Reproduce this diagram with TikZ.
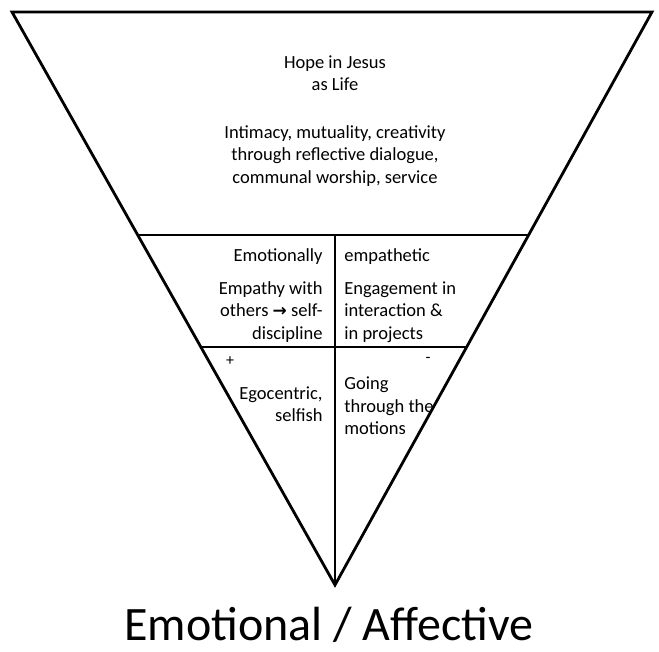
\documentclass[tikz,border=0pt]{standalone}
\usepackage{fontspec}
\setmainfont{Carlito}
\newfontfamily\arrowglyph{DejaVu Sans}
\usetikzlibrary{positioning,calc}

\tikzset{
  celltext/.style={inner sep=0pt, font=\fontsize{18.5}{22.5}\selectfont},
  signtext/.style={inner sep=0pt, font=\fontsize{16}{20}\selectfont}
}

\begin{document}
\begin{tikzpicture}[x=1pt,y=-1pt,line width=2.8pt,line join=miter]
    \useasboundingbox (0,0) rectangle (659,652);

    \coordinate (tl) at (12,12);
    \coordinate (tr) at (652,12);
    \coordinate (apex) at (335,585);

    \draw (tl) -- (tr) -- (apex) -- cycle;


    \coordinate (midl) at ($(tl)!0.3892!(apex)$);
    \coordinate (midr) at ($(tr)!0.3892!(apex)$);
    \draw (midl) -- (midr);


    \coordinate (lowl) at ($(tl)!0.5846!(apex)$);
    \coordinate (lowr) at ($(tr)!0.5846!(apex)$);
    \draw (lowl) -- (lowr);


    \coordinate (split) at (midl -| apex);
    \draw (split) -- (apex);


    \node[celltext, align=center] (hope) at (335,73) {Hope in Jesus\\as Life};
    
    
    \node[celltext, align=center] (intimacy) at (335,156) {Intimacy, mutuality, creativity\\through reflective dialogue,\\communal worship, service};
    

    \node[celltext, anchor=east] (emotionally) at (324,257) {Emotionally};
    
    
    \node[celltext, anchor=west] (empathetic) at (343,257) {empathetic};
    

    \node[celltext, anchor=east, align=right] (empathy) at (324,312) {Empathy with\\others {\arrowglyph\bfseries\fontsize{17}{20}\selectfont →} self-\\discipline};
    
    
    \node[celltext, anchor=west, align=left] (engagement) at (343,312) {Engagement in\\interaction \&\\in projects};
    

    \node[signtext] (plus) at (230,361) {+};
    
    
    \node[signtext] (minus) at (428,360) {-};
    

    \node[celltext, anchor=east, align=right] (egocentric) at (324,404) {Egocentric,\\selfish};
    
    
    \node[celltext, anchor=west, align=left] (going) at (343,406) {Going\\through the\\motions};
    

    \node[inner sep=0pt, anchor=base, font=\fontsize{48}{56}\selectfont] (affective) at (329,640) {Emotional / Affective};

\end{tikzpicture}
\end{document}
